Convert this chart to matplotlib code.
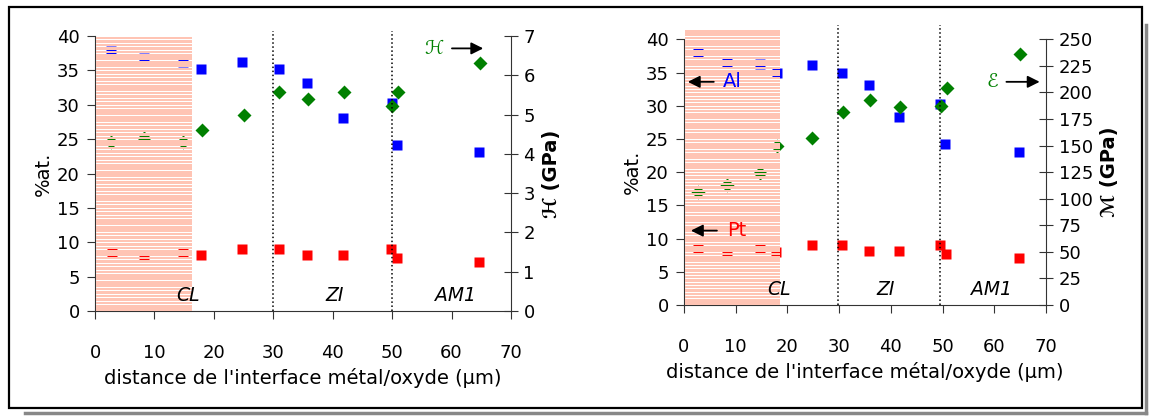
import matplotlib.pyplot as plt
import numpy as np
from matplotlib.patches import Rectangle
from matplotlib.lines import Line2D

plt.rcParams['font.family'] = ['DejaVu Sans']

# left panel : %at. and hardness H (GPa)
x_al_1 = [2.7, 8.3, 14.8, 17.8, 24.8, 30.9, 35.7, 41.8, 49.9, 50.8, 64.7]
al_1 = [37.8, 36.8, 36.2, 35.2, 36.2, 35.2, 33.1, 28.1, 30.2, 24.2, 23.1]
x_pt_1 = [2.8, 8.2, 14.8, 17.9, 24.8, 30.9, 35.7, 41.7, 49.8, 50.9, 64.7]
pt_1 = [8.6, 8.0, 8.6, 8.2, 9.0, 9.0, 8.2, 8.2, 9.0, 7.7, 7.2]
x_h = [2.7, 8.3, 14.8, 18.0, 25.0, 31.0, 35.9, 41.9, 50.0, 51.0, 64.8]
hard = [4.30, 4.41, 4.30, 4.62, 4.98, 5.58, 5.39, 5.57, 5.21, 5.57, 6.31]

# right panel : %at. and modulus E (GPa)
x_al_2 = [2.8, 8.4, 14.6, 17.9, 24.7, 30.6, 35.7, 41.6, 49.5, 50.5, 64.8]
al_2 = [38.0, 36.6, 36.3, 34.9, 36.1, 35.0, 33.1, 28.3, 30.2, 24.2, 23.1]
x_pt_2 = [2.8, 8.3, 14.6, 17.7, 24.7, 30.6, 35.7, 41.6, 49.5, 50.6, 64.8]
pt_2 = [8.4, 8.1, 8.4, 8.0, 9.0, 9.0, 8.2, 8.2, 9.0, 7.7, 7.1]
x_e = [2.8, 8.4, 14.7, 18.0, 24.8, 30.7, 35.9, 41.7, 49.7, 50.8, 65.0]
modul = [106, 113, 124, 150, 157, 182, 193, 186, 187, 204, 236]

pink = '#FFC4B4'
xlab = "distance de l'interface métal/oxyde (µm)"

fig = plt.figure(figsize=(11.49, 4.16), dpi=100)


def panel(rect, xa, ya, xp, yp, xg, yg, ymax2, ystep2, cl_end, pink_top,
          vlines, vtop, zones, ylab2):
    ax = fig.add_axes(rect)
    ax.plot(xa, ya, 's', color='#0000FF', ms=7.8, mec='none', zorder=2)
    ax.plot(xp, yp, 's', color='#FF0000', ms=7.8, mec='none', zorder=2)
    ax.set_xlim(0, 70)
    ax.set_ylim(0, 40)
    ax.set_xticks(range(0, 71, 10))
    ax.set_yticks(range(0, 41, 5))
    ax.spines['top'].set_visible(False)
    ax.spines['right'].set_visible(False)
    for s in ('left', 'bottom'):
        ax.spines[s].set_color('#333333')
    ax.tick_params(axis='x', direction='out', length=6, pad=18, labelsize=13, color='#333333')
    ax.tick_params(axis='y', direction='out', length=6, pad=5, labelsize=13, color='#333333')
    ax.set_ylabel('%at.', fontsize=14, labelpad=3)
    ax.set_xlabel(xlab, fontsize=14, labelpad=4)

    ax2 = ax.twinx()
    ax2.plot(xg, yg, 'D', color='#008000', ms=7.2, mec='none', zorder=2)
    ax2.set_ylim(0, ymax2)
    ax2.set_yticks(np.arange(0, ymax2 + 0.01, ystep2))
    for s in ('top', 'left', 'bottom'):
        ax2.spines[s].set_visible(False)
    ax2.spines['right'].set_color('#333333')
    ax2.tick_params(axis='y', direction='inout', length=10, pad=4, labelsize=13, color='#333333')
    ax2.set_ylabel(ylab2, fontsize=14, fontweight='bold', labelpad=5)

    # striped CL zone drawn over the markers
    for y0 in np.arange(0, pink_top, 0.5):
        ax2.add_patch(Rectangle((0.15, y0), cl_end - 0.15, 0.38, transform=ax.transData,
                                fc=pink, lw=0, zorder=3, clip_on=False))
    for xv in vlines:
        ax2.plot([xv, xv], [0, vtop], ':', color='black', lw=1.1, zorder=4,
                 transform=ax.transData, clip_on=False)
    for name, xz in zones:
        ax2.text(xz, 2.3, name, transform=ax.transData, fontsize=13.5, style='italic',
                 ha='center', va='center', zorder=5)
    return ax, ax2


ax, ax2 = panel([0.0827, 0.2524, 0.362, 0.661], x_al_1, al_1, x_pt_1, pt_1, x_h, hard,
                7, 1, 16.3, 40, [30, 50], 40.8,
                [('CL', 15.6), ('ZI', 40.4), ('AM1', 60.6)], '\u210B (GPa)')
ax2.annotate('', xy=(65.8, 38.2), xytext=(59.6, 38.2), xycoords=ax.transData,
             textcoords=ax.transData,
             arrowprops=dict(arrowstyle='-|>', color='black', lw=1.3, mutation_scale=18))
ax2.text(58.6, 38.2, '\u210B', transform=ax.transData, color='#008000', fontsize=14,
         style='italic', ha='right', va='center')

bx, bx2 = panel([0.5953, 0.2668, 0.3151, 0.6387], x_al_2, al_2, x_pt_2, pt_2, x_e, modul,
                250, 25, 18.5, 41.2, [29.8, 49.4], 42.2,
                [('CL', 18.4), ('ZI', 39.0), ('AM1', 59.5)], '\u2133 (GPa)')
bx2.annotate('', xy=(69.3, 33.6), xytext=(61.8, 33.6), xycoords=bx.transData,
             textcoords=bx.transData,
             arrowprops=dict(arrowstyle='-|>', color='black', lw=1.3, mutation_scale=18))
bx2.text(60.8, 33.6, '\u2130', transform=bx.transData, color='#008000', fontsize=14,
         style='italic', ha='right', va='center')
bx2.annotate('', xy=(0.2, 33.6), xytext=(6.3, 33.6), xycoords=bx.transData,
             textcoords=bx.transData, zorder=6,
             arrowprops=dict(arrowstyle='-|>', color='black', lw=1.3, mutation_scale=18))
bx2.text(7.6, 33.6, 'Al', transform=bx.transData, color='#0000FF', fontsize=14,
         ha='left', va='center', zorder=6)
bx2.annotate('', xy=(0.8, 11.2), xytext=(6.9, 11.2), xycoords=bx.transData,
             textcoords=bx.transData, zorder=6,
             arrowprops=dict(arrowstyle='-|>', color='black', lw=1.3, mutation_scale=18))
bx2.text(8.3, 11.2, 'Pt', transform=bx.transData, color='#FF0000', fontsize=14,
         ha='left', va='center', zorder=6)

# outer frame with shadow
fig.add_artist(Rectangle((9 / 1149, 1 - 408 / 416), 1133 / 1149, 401 / 416,
                         transform=fig.transFigure, fill=False, ec='black', lw=1.6))
fig.add_artist(Line2D([25 / 1149, 1146 / 1149], [1 - 413 / 416, 1 - 413 / 416],
                      transform=fig.transFigure, color='#888888', lw=2.5))
fig.add_artist(Line2D([1146 / 1149, 1146 / 1149], [1 - 413 / 416, 1 - 25 / 416],
                      transform=fig.transFigure, color='#888888', lw=2.5))

fig.savefig('out.png', dpi=100)
